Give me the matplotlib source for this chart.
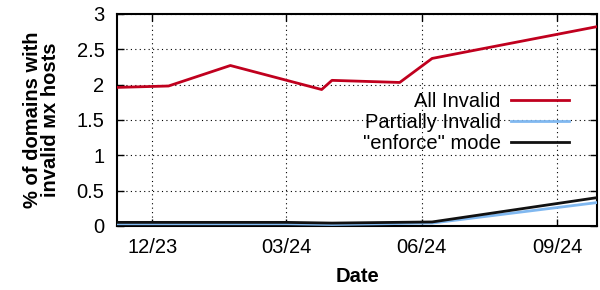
import numpy as np
import pandas as pd
import matplotlib
matplotlib.use("Agg")
import matplotlib.pyplot as plt
import matplotlib.dates as mdates

plt.rcParams['font.family'] = ['Liberation Sans', 'DejaVu Sans']

# values
all_dates = ["2023-11-07", "2023-12-12", "2024-01-23", "2024-03-25",
             "2024-04-01", "2024-05-17", "2024-06-08", "2024-09-28"]
all_invalid = [1.96, 1.98, 2.27, 1.93, 2.06, 2.03, 2.37, 2.82]

low_dates = ["2023-11-07", "2024-03-01", "2024-04-01", "2024-06-08", "2024-09-28"]
partially_invalid = [0.03, 0.03, 0.02, 0.04, 0.33]
enforce_mode = [0.05, 0.05, 0.04, 0.056, 0.40]

tick_dates = ["2023-12-01", "2024-03-01", "2024-06-01", "2024-09-01"]
tick_labels = ["12/23", "03/24", "06/24", "09/24"]

all_dates = pd.to_datetime(all_dates)
low_dates = pd.to_datetime(low_dates)
tick_dates = pd.to_datetime(tick_dates)

fs = 14.5

fig = plt.figure(figsize=(6, 2.9), dpi=100)
ax = fig.add_axes([0.195, 0.221, 0.80, 0.731])

l2, = ax.plot(low_dates, partially_invalid, color="#80b8f0", lw=2.0, label="Partially Invalid", zorder=3)
l3, = ax.plot(low_dates, enforce_mode, color="#111111", lw=2.0, label='"enforce" mode', zorder=4)
l1, = ax.plot(all_dates, all_invalid, color="#c0001e", lw=2.0, label="All Invalid", zorder=5)

ax.set_xlim(pd.Timestamp("2023-11-07"), pd.Timestamp("2024-09-28"))
ax.set_ylim(0, 3)
ax.set_yticks([0, 0.5, 1, 1.5, 2, 2.5, 3])
ax.set_yticklabels(["0", "0.5", "1", "1.5", "2", "2.5", "3"])
ax.set_xticks(tick_dates)
ax.set_xticklabels(tick_labels)

ax.tick_params(direction="in", length=5, width=1, labelsize=fs, top=True, right=True)
ax.tick_params(axis="x", pad=9)
ax.tick_params(axis="y", pad=9)
ax.grid(True, color="black", linestyle=(0, (1, 3)), lw=0.8)
for s in ax.spines.values():
    s.set_linewidth(1.5)

ax.set_xlabel("Date", fontsize=fs, fontweight="bold", labelpad=7)
ax.set_ylabel("% of domains with\ninvalid ᴍx hosts", fontsize=fs, fontweight="bold",
              linespacing=0.95, labelpad=12)

leg = ax.legend(handles=[l1, l2, l3], loc="upper right", bbox_to_anchor=(0.963, 0.68),
                frameon=False, fontsize=fs, markerfirst=False, handlelength=2.9,
                labelspacing=0.1, handletextpad=0.5, borderpad=0)
for t in leg.get_texts():
    t.set_ha("right")
leg._legend_box.align = "right"

fig.savefig("out.png", dpi=100)
